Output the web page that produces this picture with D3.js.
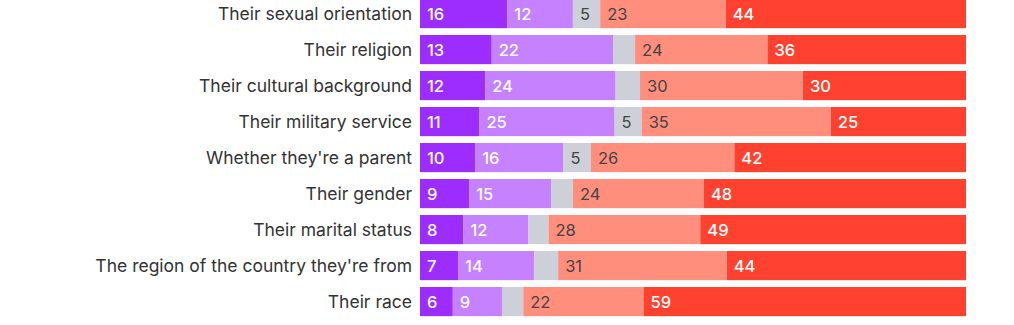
<!DOCTYPE html>
<html>
<head>
<meta charset="utf-8">
<script src="https://cdn.jsdelivr.net/npm/d3@7"></script>
<style>
  body { margin: 0; background: #fff; }
  svg text { font-family: Inter, "Noto Sans", sans-serif; }
</style>
</head>
<body>
<svg id="chart" width="1014" height="325"></svg>
<script>
var categories = [
    "Their sexual orientation",
    "Their religion",
    "Their cultural background",
    "Their military service",
    "Whether they're a parent",
    "Their gender",
    "Their marital status",
    "The region of the country they're from",
    "Their race"
];
var keys = ["s1", "s2", "s3", "s4", "s5"];
var s1 = [16, 13, 12, 11, 10, 9, 8, 7, 6];
var s2 = [12, 22, 24, 25, 16, 15, 12, 14, 9];
var s3 = [5, 4, 4.5, 5, 5, 4, 3.7, 4.4, 3.9];
var s4 = [23, 24, 30, 35, 26, 24, 28, 31, 22];
var s5 = [44, 36, 30, 25, 42, 48, 49, 44, 59];

var colors = ["#9d2cff", "#c581ff", "#cdd0d9", "#ff8e7c", "#ff4230"];
var labelColors = ["#fff", "#fff", "#444", "#444", "#fff"];

var rows = categories.map(function(c, i) {
    return {cat: c, s1: s1[i], s2: s2[i], s3: s3[i], s4: s4[i], s5: s5[i]};
});

var svg = d3.select("#chart"),
    margin = {left: 420, right: 48, top: -1},
    width = 1014 - margin.left - margin.right,
    step = 36,
    pad = 0.19;

var x = d3.scaleLinear().domain([0, 1]).range([margin.left, margin.left + width]);
var y = d3.scaleBand()
    .domain(categories)
    .range([margin.top, margin.top + step * (categories.length - pad)])
    .paddingInner(pad)
    .paddingOuter(0);

var stack = d3.stack().keys(keys).offset(d3.stackOffsetExpand);
var series = stack(rows);

var layer = svg.selectAll(".layer")
    .data(series)
    .enter().append("g")
    .attr("class", "layer")
    .attr("fill", function(d, i) { return colors[i]; });

layer.selectAll("rect")
    .data(function(d) { return d; })
    .enter().append("rect")
    .attr("x", function(d) { return x(d[0]); })
    .attr("y", function(d) { return y(d.data.cat); })
    .attr("width", function(d) { return x(d[1]) - x(d[0]); })
    .attr("height", y.bandwidth());

layer.selectAll("text")
    .data(function(d) { return d.map(function(p) { return {p: p, key: d.key, index: d.index}; }); })
    .enter().append("text")
    .filter(function(d) { return d.p.data[d.key] >= 5; })
    .attr("x", function(d) { return x(d.p[0]) + 7; })
    .attr("y", function(d) { return y(d.p.data.cat) + y.bandwidth() / 2; })
    .attr("dy", "0.36em")
    .attr("fill", function(d) { return labelColors[d.index]; })
    .attr("font-size", "16.5px")
    .attr("font-weight", function(d) { return labelColors[d.index] == "#fff" ? 500 : 400; })
    .text(function(d) { return Math.round(d.p.data[d.key]); });

svg.append("g").selectAll("text")
    .data(categories)
    .enter().append("text")
    .attr("x", margin.left - 8)
    .attr("y", function(d) { return y(d) + y.bandwidth() / 2; })
    .attr("dy", "0.36em")
    .attr("text-anchor", "end")
    .attr("fill", "#333")
    .attr("font-size", "17.5px")
    .text(function(d) { return d; });
</script>
</body>
</html>
